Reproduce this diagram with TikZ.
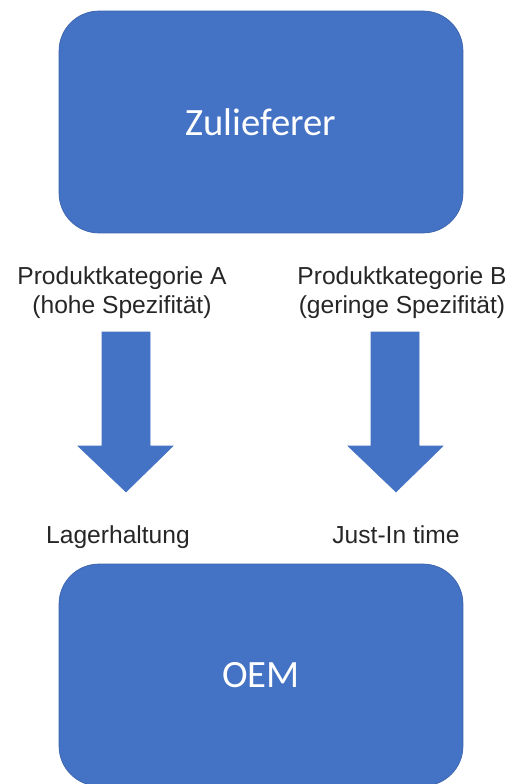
\documentclass[tikz,border=0pt]{standalone}
\usepackage{fontspec}
\setmainfont{Liberation Sans}
\newfontfamily\boxfont{Carlito}
\usepackage{xcolor}
\usepackage{tikz}

\definecolor{officeblue}{HTML}{4472C4}
\definecolor{officeedge}{HTML}{3B64AD}

\begin{document}
\begin{tikzpicture}[x=0.02cm,y=-0.02cm,
    partner/.style={draw=officeedge, line width=0.4pt, fill=officeblue, rounded corners=0.8cm,
        minimum width=8.08cm, minimum height=4.44cm, text=white, font=\boxfont\fontsize{22}{26}\selectfont},
    label/.style={align=center, text=black!85, font=\fontsize{14}{16.4}\selectfont},
    blockarrow/.style={fill=officeblue, draw=officeblue, line width=0.3pt}]
            % Canvas
            \useasboundingbox (0,0) rectangle (514,784);
            % Boxes
            \node[partner] (zul) at (261,122) {Zulieferer};
            \node[partner] (oem) at (261,675) {OEM};
            % Category labels
            \node[label] (katA) at (122,293) {Produktkategorie A\\(hohe Spezifität)};
            \node[label] (katB) at (402,293) {Produktkategorie B\\(geringe Spezifität)};
            % Delivery labels
            \node[label, anchor=base] (lager) at (118,543) {Lagerhaltung};
            \node[label, anchor=base] (jit) at (396,543) {Just-In time};
            % Arrow A
            \draw[blockarrow] (102,332) -- (150,332) -- (150,446) -- (173,446) -- (126,492)
                -- (78,446) -- (102,446) -- cycle;
            % Arrow B
            \draw[blockarrow] (371,332) -- (419,332) -- (419,446) -- (443,446) -- (396,492)
                -- (348,446) -- (371,446) -- cycle;
        \end{tikzpicture}
\end{document}
